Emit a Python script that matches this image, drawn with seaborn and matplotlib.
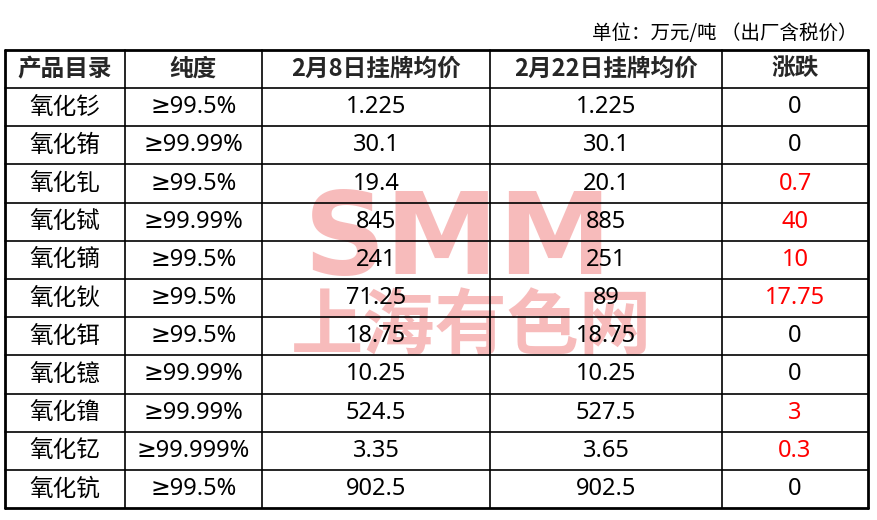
import matplotlib
matplotlib.use("Agg")
import matplotlib.pyplot as plt
import seaborn as sns

sns.set_theme(style="white")
plt.rcParams['font.family'] = ['Noto Sans CJK SC', 'DejaVu Sans']

headers = ["产品目录", "纯度", "2月8日挂牌均价", "2月22日挂牌均价", "涨跌"]
products = ["氧化钐", "氧化铕", "氧化钆", "氧化铽", "氧化镝", "氧化钬", "氧化铒", "氧化镱", "氧化镥", "氧化钇", "氧化钪"]
purity = ["≥99.5%", "≥99.99%", "≥99.5%", "≥99.99%", "≥99.5%", "≥99.5%", "≥99.5%", "≥99.99%", "≥99.99%", "≥99.999%", "≥99.5%"]
price_feb8 = ["1.225", "30.1", "19.4", "845", "241", "71.25", "18.75", "10.25", "524.5", "3.35", "902.5"]
price_feb22 = ["1.225", "30.1", "20.1", "885", "251", "89", "18.75", "10.25", "527.5", "3.65", "902.5"]
change = ["0", "0", "0.7", "40", "10", "17.75", "0", "0", "3", "0.3", "0"]

col_edges = [5, 125, 262, 490, 722, 868]
row_top = 50
header_h = 38
row_h = 38.2

fig = plt.figure(figsize=(8.77, 5.2), dpi=100)
ax = fig.add_axes([0, 0, 1, 1])
ax.set_xlim(0, 877)
ax.set_ylim(520, 0)
ax.axis("off")

# watermark
ax.text(458, 242, "SMM", fontsize=82, fontweight="black", color="#f6b0b0", alpha=0.85,
        ha="center", va="center", zorder=0, family=["DejaVu Sans"])
ax.text(472, 328, "上海有色网", fontsize=52, fontweight="bold", color="#f6b0b0", alpha=0.85,
        ha="center", va="center", zorder=0)

ax.text(858, 33, "单位：万元/吨 （出厂含税价）", fontsize=14, ha="right", va="center", color="black")

n = len(products)
bottom = row_top + header_h + n * row_h
ys = [row_top, row_top + header_h] + [row_top + header_h + (i + 1) * row_h for i in range(n)]
for y in ys:
    lw = 2 if y in (row_top, bottom) else 1.2
    ax.plot([col_edges[0], col_edges[-1]], [y, y], color="black", lw=lw)
for i, x in enumerate(col_edges):
    lw = 2 if i in (0, len(col_edges) - 1) else 1.2
    ax.plot([x, x], [row_top, bottom], color="black", lw=lw)

centers = [(col_edges[i] + col_edges[i + 1]) / 2 for i in range(5)]
for c, h in zip(centers, headers):
    ax.text(c, row_top + header_h / 2, h, fontsize=17, fontweight="bold", ha="center", va="center")

for i in range(n):
    yc = row_top + header_h + (i + 0.5) * row_h
    vals = [products[i], purity[i], price_feb8[i], price_feb22[i], change[i]]
    for j, (c, v) in enumerate(zip(centers, vals)):
        color = "red" if (j == 4 and float(v) > 0) else "black"
        fam = ["Noto Sans", "DejaVu Sans"] if j > 0 else ["Noto Sans CJK SC", "DejaVu Sans"]
        ax.text(c, yc, v, fontsize=17, ha="center", va="center", color=color, family=fam)

fig.savefig("out.png", dpi=100, facecolor="white")
